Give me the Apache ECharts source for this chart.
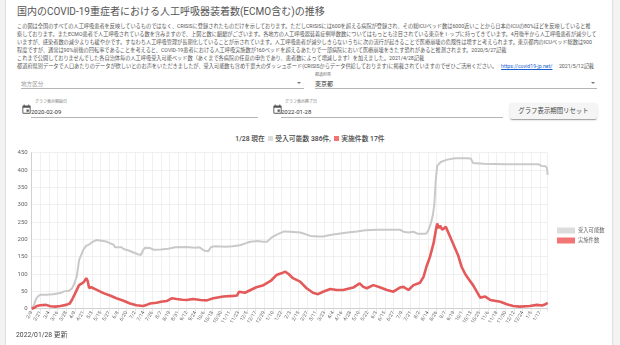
<!DOCTYPE html>
<html><head><meta charset="utf-8">
<script src="https://cdn.jsdelivr.net/npm/echarts@6/dist/echarts.min.js"></script>
<style>
html,body{margin:0;padding:0;}
body{width:620px;height:345px;overflow:hidden;background:#f3f3f3;font-family:Roboto,"Noto Sans CJK JP",sans-serif;position:relative;}
#card{position:absolute;left:6px;top:0;width:606px;height:345px;background:#fff;box-shadow:0 0 2px rgba(0,0,0,.25);}
.a{position:absolute;white-space:nowrap;}
#title{left:17px;top:6px;font-size:10px;line-height:12px;color:#555;}
.p{left:17px;font-size:5.2px;line-height:8px;color:#555;}
.p a{color:#1a5fd0;text-decoration:underline;}
.ul{position:absolute;height:0;border-top:1px solid #b5b5b5;}
.lbl{font-size:4px;line-height:5px;color:#777;}
.val{font-size:6px;line-height:8px;color:#333;}
.arrow{position:absolute;width:0;height:0;border-left:2.3px solid transparent;border-right:2.3px solid transparent;border-top:2.5px solid #777;}
#btn{position:absolute;left:510px;top:103px;width:87px;height:16px;background:#f5f5f5;border-radius:2px;box-shadow:0 2px 1px -1px rgba(0,0,0,.2),0 1px 1px 0 rgba(0,0,0,.14),0 1px 3px 0 rgba(0,0,0,.12);font-size:6.4px;line-height:16px;text-align:center;color:#444;}
#status{left:0;width:620px;top:135px;text-align:center;font-size:6.8px;line-height:9px;color:#444;font-weight:500;}
.sq{display:inline-block;width:5px;height:5px;vertical-align:-0.2px;margin:0 1px;}
#chart{position:absolute;left:0;top:145px;width:612px;height:188px;}
#upd{left:16px;top:331px;font-size:6.8px;line-height:9px;color:#444;}
</style></head>
<body>
<div id="card"></div>
<div class="a" id="title">国内のCOVID-19重症者における人工呼吸器装着数(ECMO含む)の推移</div>
<div class="a p" style="top:22px">この図は全国のすべての人工呼吸患者を反映しているものではなく、CRISISに登録されたものだけを示しております。ただしCRISISには600を超える病院が登録され、その総ICUベッド数は6000近いことから日本のICUの80%ほどを反映していると推</div>
<div class="a p" style="top:30px">察しております。またECMO患者で人工呼吸されている数を含みますので、上図と数に齟齬がございます。各地方の人工呼吸器装着症例単数数についてはもっとも注目されている東京をトップに持ってきています。4月後半から人工呼吸患者が減少して</div>
<div class="a p" style="top:38px">いますが、感染者数の減少よりも緩やかです。すなわち人工呼吸管理が長期化していることが示されています。人工呼吸患者が減少しきらないうちに次の流行が起きることで医療崩壊の危険性は増すと考えられます。東京都内のICUベッド総数は900</div>
<div class="a p" style="top:46px">程度ですが、通常は90%前後の回転率であることを考えると、COVID-19患者における人工呼吸実施数が160ベッドを超えるあたりで一部病院において医療崩壊をきたす恐れがあると推測されます。2020/5/27記載</div>
<div class="a p" style="top:54px">これまで公開しておりませんでした各自治体毎の人工呼吸受入可能ベッド数（あくまで各病院の任意の申告であり、患者数によって増減します）を加えました。2021/4/28記載</div>
<div class="a p" style="top:62px">都道府県別データで人口あたりのデータが欲しいとのお声をいただきましたが、受入可能数も含め千葉大のダッシュボード(CRISISからデータ供給しております)に掲載されていますのでぜひご活用ください。　 <a>https://covid19-jp.net/</a>　 2021/5/12記載</div>

<div class="a val" style="left:21px;top:80px;color:#999;font-size:5.6px">地方区分</div>
<div class="ul" style="left:21px;top:88px;width:283px"></div>
<div class="arrow" style="left:297px;top:81.5px"></div>

<div class="a lbl" style="left:315px;top:72px">都道府県</div>
<div class="a val" style="left:315px;top:80px">東京都</div>
<div class="ul" style="left:315px;top:88px;width:282px"></div>
<div class="arrow" style="left:590.5px;top:81.5px"></div>

<svg class="a" style="left:21px;top:104px" width="11" height="11" viewBox="0 0 24 24"><path fill="#555" d="M17 12h-5v5h5v-5zM16 1v2H8V1H6v2H5c-1.11 0-1.99.9-1.99 2L3 19c0 1.1.89 2 2 2h14c1.1 0 2-.9 2-2V5c0-1.1-.9-2-2-2h-1V1h-2zm3 18H5V8h14v11z"/></svg>
<div class="a lbl" style="left:35px;top:99px">グラフ表示開始日</div>
<div class="a val" style="left:31px;top:107.5px">2020-02-09</div>
<div class="ul" style="left:31px;top:117px;width:227px"></div>

<svg class="a" style="left:271.5px;top:104px" width="11" height="11" viewBox="0 0 24 24"><path fill="#555" d="M17 12h-5v5h5v-5zM16 1v2H8V1H6v2H5c-1.11 0-1.99.9-1.99 2L3 19c0 1.1.89 2 2 2h14c1.1 0 2-.9 2-2V5c0-1.1-.9-2-2-2h-1V1h-2zm3 18H5V8h14v11z"/></svg>
<div class="a lbl" style="left:285px;top:99px">グラフ表示終了日</div>
<div class="a val" style="left:281px;top:107.5px">2022-01-28</div>
<div class="ul" style="left:281px;top:117px;width:222px"></div>

<div id="btn">グラフ表示期間リセット</div>

<div class="a" id="status">1/28 現在 <span class="sq" style="background:#dcdcdc"></span> 受入可能数 386件, <span class="sq" style="background:#f27474"></span> 実施件数 17件</div>

<div id="chart"></div>
<div class="a" id="upd">2022/01/28 更新</div>

<script>
// x positions are day indexes counted from 2020-02-09 (0) to 2022-01-28 (719)
const tickLabels = ["2/9","2/21","3/4","3/16","3/28","4/9","4/21","5/3","5/15","5/27","6/8","6/20","7/2","7/14","7/26","8/7","8/19","8/31","9/12","9/24","10/6","10/18","10/30","11/11","11/23","12/5","12/17","12/29","1/10","1/22","2/3","2/15","2/27","3/11","3/23","4/4","4/16","4/28","5/10","5/22","6/3","6/15","6/27","7/9","7/21","8/2","8/14","8/26","9/7","9/19","10/1","10/13","10/25","11/6","11/18","11/30","12/12","12/24","1/5","1/17"];
const seriesNames = ["受入可能数","実施件数"];

const availDays = [0,3,6,9,12,20,30,40,45,52,56,60,63,66,69,72,76,80,84,90,95,100,105,110,114,116,125,128,135,142,148,152,155,158,165,170,180,190,200,215,228,234,240,246,250,256,270,280,290,300,305,315,322,328,334,340,346,352,360,374,380,388,400,406,414,420,430,440,453,465,481,500,513,518,525,532,538,546,550,553,556,559,561,563,565,570,579,590,605,612,615,630,660,690,706,710,716,718,719];
const availVals = [0,10,28,36,40,40,42,45,50,52,58,75,95,140,155,170,182,185,192,198,197,195,193,188,185,177,177,172,168,162,157,155,168,176,175,170,171,173,177,178,176,177,168,166,178,180,179,180,183,190,193,195,193,193,205,212,218,223,222,220,216,210,208,208,212,214,217,220,223,226,228,228,228,222,220,222,216,216,217,228,245,270,300,370,412,423,430,434,434,433,420,418,417,417,417,412,411,405,386];

const usedDays = [0,4,7,12,20,26,33,40,48,53,56,60,63,66,70,73,76,78,80,83,90,100,109,118,128,137,146,155,160,165,174,180,188,195,202,210,216,225,235,244,253,267,281,286,289,297,305,313,323,327,334,341,348,353,358,364,374,383,392,399,406,416,425,434,448,457,462,467,476,485,495,504,513,518,525,532,541,546,550,555,560,563,565,567,569,572,574,577,580,585,589,594,599,604,608,615,620,625,632,639,653,662,671,680,694,704,711,716,719];
const usedVals = [0,3,8,10,11,7,6,8,11,15,25,42,55,68,73,78,88,80,60,62,55,45,38,30,23,15,10,8,11,15,17,20,22,30,28,26,25,28,25,24,30,35,37,38,49,46,54,62,68,73,82,97,102,107,100,88,78,59,46,42,49,57,54,54,61,73,63,59,68,62,54,49,61,63,54,68,75,92,121,150,189,225,246,232,240,228,226,236,222,198,179,155,121,100,88,68,50,32,35,25,20,13,8,6,8,11,9,13,17];

const pair = (d, v) => d.map((x, i) => [x, v[i]]);

const chart = echarts.init(document.getElementById('chart'));
chart.setOption({
  animation: false,
  textStyle: {fontFamily: 'Roboto, "Noto Sans CJK JP", sans-serif'},
  grid: {left: 31.7, top: 7.7, width: 516, height: 156},
  legend: {
    orient: 'vertical', left: 552, top: 77.5, itemWidth: 18, itemHeight: 6, itemGap: 4,
    icon: 'rect',
    textStyle: {fontSize: 5.3, color: '#666', padding: [0, 0, 0, -2]},
    data: [
      {name: seriesNames[0], itemStyle: {color: '#dcdcdc', borderWidth: 0}},
      {name: seriesNames[1], itemStyle: {color: '#f27474', borderWidth: 0}}
    ]
  },
  xAxis: {
    type: 'value', min: 0, max: 719, interval: 12,
    axisLine: {show: true, lineStyle: {color: '#d0d0d0'}},
    axisTick: {show: true, length: 3, lineStyle: {color: '#e4e4e4'}},
    splitLine: {show: true, lineStyle: {color: '#ececec', width: 0.8}},
    axisLabel: {
      rotate: 58, fontSize: 5, color: '#666', margin: 3,
      formatter: v => (v % 12 === 0 && tickLabels[v / 12]) ? tickLabels[v / 12] : ''
    }
  },
  yAxis: {
    type: 'value', min: 0, max: 450, interval: 50,
    axisLine: {show: true, lineStyle: {color: '#d0d0d0'}},
    axisTick: {show: false},
    splitLine: {lineStyle: {color: '#ececec', width: 0.8}},
    axisLabel: {fontSize: 6, color: '#666', margin: 4}
  },
  series: [
    {name: seriesNames[0], type: 'line', data: pair(availDays, availVals), showSymbol: false,
     lineStyle: {color: '#c9c9c9', width: 2}, itemStyle: {color: '#c9c9c9'}, z: 2},
    {name: seriesNames[1], type: 'line', data: pair(usedDays, usedVals), showSymbol: false,
     lineStyle: {color: '#e45a5a', width: 2.6}, itemStyle: {color: '#e45a5a'}, z: 3}
  ]
});
</script>
</body></html>
